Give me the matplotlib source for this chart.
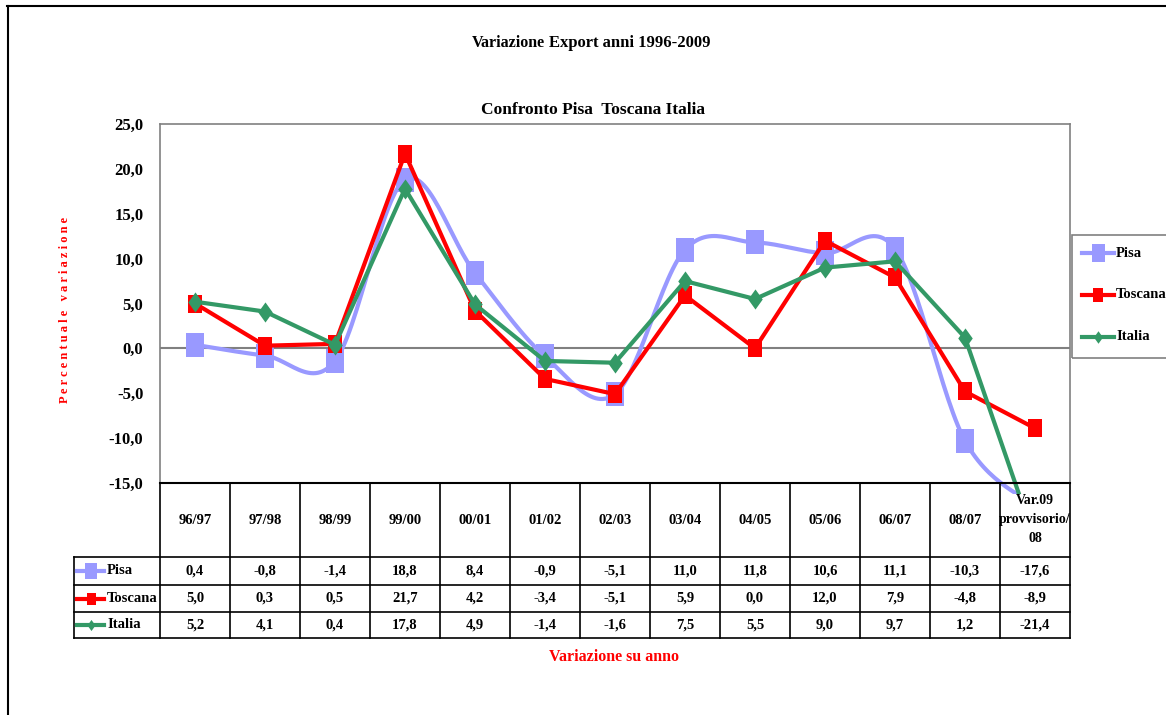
import numpy as np
import matplotlib
matplotlib.use("Agg")
import matplotlib.pyplot as plt
from matplotlib.path import Path
from matplotlib.lines import Line2D
from matplotlib.patches import Rectangle

categories = ["96/97", "97/98", "98/99", "99/00", "00/01", "01/02", "02/03",
              "03/04", "04/05", "05/06", "06/07", "08/07", "Var.09\nprovvisorio/\n08"]
pisa = [0.4, -0.8, -1.4, 18.8, 8.4, -0.9, -5.1, 11.0, 11.8, 10.6, 11.1, -10.3, -17.6]
toscana = [5.0, 0.3, 0.5, 21.7, 4.2, -3.4, -5.1, 5.9, 0.0, 12.0, 7.9, -4.8, -8.9]
italia = [5.2, 4.1, 0.4, 17.8, 4.9, -1.4, -1.6, 7.5, 5.5, 9.0, 9.7, 1.2, -21.4]
series_names = ["Pisa", "Toscana", "Italia"]
yticks = [-15, -10, -5, 0, 5, 10, 15, 20, 25]

C_PISA = "#9999FF"
C_TOS = "#FF0000"
C_ITA = "#339966"
FONT = "Liberation Serif"

W, H = 1166, 715
fig = plt.figure(figsize=(W / 100, H / 100), dpi=100)


def fx(px):
    return px / W


def fy(py):
    return 1 - py / H


# markers (tall shapes)
rect = Path([(-0.36, -0.5), (0.36, -0.5), (0.36, 0.5), (-0.36, 0.5), (-0.36, -0.5)],
            [Path.MOVETO, Path.LINETO, Path.LINETO, Path.LINETO, Path.CLOSEPOLY])
diam = Path([(0, -0.5), (0.36, 0), (0, 0.5), (-0.36, 0), (0, -0.5)],
            [Path.MOVETO, Path.LINETO, Path.LINETO, Path.LINETO, Path.CLOSEPOLY])


def catmull(xs, ys, n=30):
    P = np.column_stack([np.asarray(xs, float), np.asarray(ys, float)])
    out = []
    N = len(P)
    for i in range(N - 1):
        p0 = P[i - 1] if i > 0 else P[i]
        p1 = P[i]
        p2 = P[i + 1]
        p3 = P[i + 2] if i + 2 < N else P[i + 1]
        c1 = p1 + (p2 - p0) / 6
        c2 = p2 - (p3 - p1) / 6
        t = np.linspace(0, 1, n)[:, None]
        seg = ((1 - t) ** 3) * p1 + 3 * ((1 - t) ** 2) * t * c1 + 3 * (1 - t) * t ** 2 * c2 + t ** 3 * p2
        out.append(seg if i == 0 else seg[1:])
    S = np.vstack(out)
    return S[:, 0], S[:, 1]


# outer border (top and left only visible)
fig.add_artist(Line2D([fx(7), fx(1166)], [fy(6), fy(6)], color="black", linewidth=1.5,
                      transform=fig.transFigure))
fig.add_artist(Line2D([fx(8), fx(8)], [fy(6), fy(715)], color="black", linewidth=1.5,
                      transform=fig.transFigure))

# main axes
L, R, T, B = 160, 1070, 124, 483
ax = fig.add_axes([fx(L), fy(B), fx(R) - fx(L), fy(T) - fy(B)])
x = np.arange(len(categories))
ax.set_xlim(-0.5, len(categories) - 0.5)
ax.set_ylim(-15, 25)
ax.set_yticks(yticks)
ax.set_yticklabels([f"{v:.1f}".replace(".", ",") for v in yticks],
                   fontfamily=FONT, fontweight="bold", fontsize=12)
ax.tick_params(axis="y", length=0, pad=12)
ax.set_xticks([])
for s in ["top", "right", "left"]:
    ax.spines[s].set_color("#808080")
    ax.spines[s].set_linewidth(1.2)
ax.spines["bottom"].set_color("black")
ax.spines["bottom"].set_linewidth(1.5)
ax.spines["bottom"].set_zorder(6)
ax.axhline(0, color="#808080", linewidth=1.5, zorder=1)

# lines may run a little below the plot floor, as in the reference
clip = Rectangle((-0.5, -16.2), len(categories), 41.2, transform=ax.transData,
                 facecolor="none", edgecolor="none")
ax.add_patch(clip)

px_, py_ = catmull(x, pisa)
l1, = ax.plot(px_, py_, color=C_PISA, linewidth=3, zorder=2)
l1.set_clip_path(clip)
ax.plot(x, pisa, linestyle="none", marker=rect, markersize=17.5,
        color=C_PISA, markeredgewidth=0, zorder=3)
ax.plot(x, toscana, color=C_TOS, linewidth=3, marker=rect, markersize=13.5,
        markeredgewidth=0, zorder=4)
l3, = ax.plot(x, italia, color=C_ITA, linewidth=3, zorder=5)
l3.set_clip_path(clip)
ax.plot(x, italia, linestyle="none", color=C_ITA, marker=diam, markersize=14.5,
        markeredgewidth=0, zorder=5)

ax.set_ylabel("P e r c e n t u a l e   v a r i a z i o n e", color="red",
              fontfamily=FONT, fontweight="bold", fontsize=9)
ax.yaxis.set_label_coords((71 - L) / (R - L), (B - 310) / (B - T))

# titles
fig.text(fx(545), fy(43), "Variazione", ha="right", va="center",
         fontfamily=FONT, fontweight="bold", fontsize=11.5)
fig.text(fx(549), fy(43), "Export anni 1996-2009", ha="left", va="center",
         fontfamily=FONT, fontweight="bold", fontsize=12)
fig.text(fx(593), fy(110), "Confronto Pisa  Toscana Italia", ha="center", va="center",
         fontfamily=FONT, fontweight="bold", fontsize=12.5)

# data table
colw = (R - L) / len(categories)
tx0 = 74
tab = fig.add_axes([fx(tx0), fy(640), fx(R) - fx(tx0), fy(B) - fy(640)])
tab.set_xlim(-0.5 - (L - tx0) / colw, len(categories) - 0.5)
tab.set_ylim(640, B)
tab.axis("off")
rows_y = [B, 557, 585, 612, 638]
lc = "black"
for i in range(len(categories) + 1):
    xb = i - 0.5
    tab.plot([xb, xb], [B, 638], color=lc, linewidth=1.2, clip_on=False)
xl = -0.5 - (L - tx0) / colw
for yy in rows_y[1:]:
    tab.plot([xl, len(categories) - 0.5], [yy, yy], color=lc, linewidth=1.2, clip_on=False)
tab.plot([xl, xl], [557, 638], color=lc, linewidth=1.2, clip_on=False)

for i, c in enumerate(categories):
    tab.text(i, 520, c, ha="center", va="center", fontfamily=FONT, fontweight="bold",
             fontsize=10.5 if i < len(categories) - 1 else 10, linespacing=1.6)

fmt = lambda v: f"{v:.1f}".replace(".", ",")
row_centers = [571, 598.5, 625]
data_rows = [pisa, toscana, italia]
colors = [C_PISA, C_TOS, C_ITA]
markers = [(rect, 12), (rect, 9), (diam, 8)]
for r, (vals, yc) in enumerate(zip(data_rows, row_centers)):
    for i, v in enumerate(vals):
        tab.text(i, yc, fmt(v), ha="center", va="center", fontfamily=FONT,
                 fontweight="bold", fontsize=10.5)
    kx0 = xl + 3 / colw
    kx1 = xl + 30 / colw
    tab.plot([kx0, kx1], [yc, yc], color=colors[r], linewidth=3, clip_on=False)
    tab.plot([(kx0 + kx1) / 2], [yc], color=colors[r], marker=markers[r][0],
             markersize=markers[r][1], markeredgewidth=0, clip_on=False)
    tab.text(xl + 33 / colw, yc, series_names[r], ha="left", va="center",
             fontfamily=FONT, fontweight="bold", fontsize=10.5)

fig.text(fx(614), fy(657), "Variazione su anno", ha="center", va="center", color="red",
         fontfamily=FONT, fontweight="bold", fontsize=11.5)

# legend (box runs off the right edge)
fig.add_artist(Rectangle((fx(1072), fy(358)), fx(1200) - fx(1072), fy(235) - fy(358),
                         fill=False, edgecolor="#808080", linewidth=1.2,
                         transform=fig.transFigure))
leg_y = [253, 295, 337]
lmk = [(rect, 13), (rect, 10), (diam, 9)]
for r in range(3):
    fig.add_artist(Line2D([fx(1082), fx(1114)], [fy(leg_y[r])] * 2, color=colors[r],
                          linewidth=3, transform=fig.transFigure))
    fig.add_artist(Line2D([fx(1098)], [fy(leg_y[r])], color=colors[r], marker=lmk[r][0],
                          markersize=lmk[r][1], markeredgewidth=0, transform=fig.transFigure))
    fig.text(fx(1116), fy(leg_y[r]), series_names[r], ha="left", va="center",
             fontfamily=FONT, fontweight="bold", fontsize=10.5)

fig.savefig("out.png", dpi=100)
